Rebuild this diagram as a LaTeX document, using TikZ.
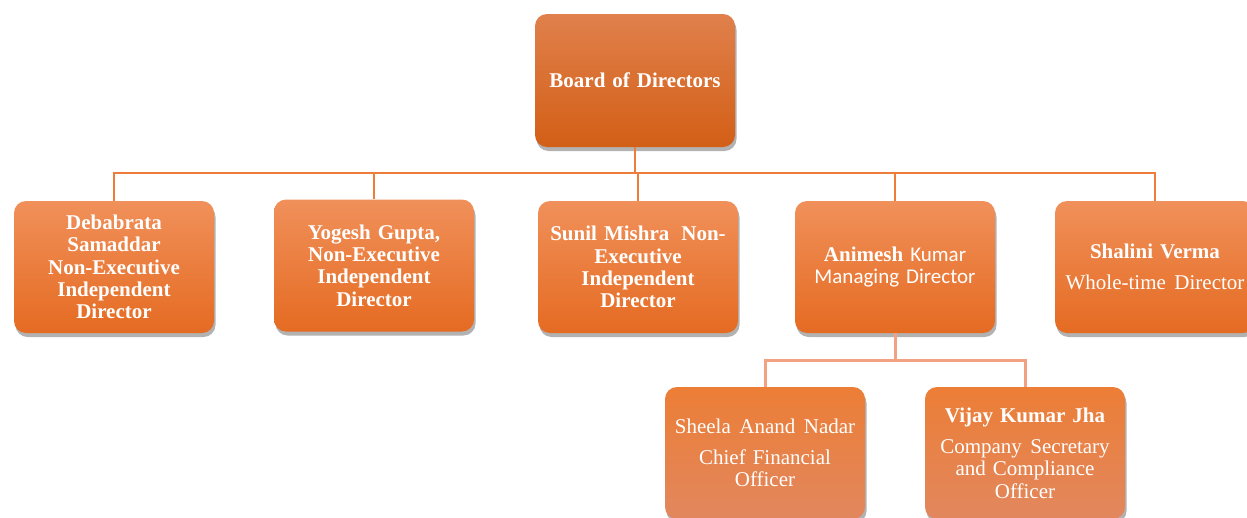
\documentclass[tikz,border=0pt]{standalone}
\usepackage{fontspec}
\setmainfont{Liberation Serif}
\newfontfamily\calfont{Carlito}
\usetikzlibrary{shadows,positioning}
\definecolor{boardtop}{HTML}{E0804C}
\definecolor{boardbot}{HTML}{D35F16}
\definecolor{midtop}{HTML}{F0905A}
\definecolor{midbot}{HTML}{E56B22}
\definecolor{lowtop}{HTML}{EC7E36}
\definecolor{lowbot}{HTML}{E2875E}
\definecolor{busone}{HTML}{EE7D3A}
\definecolor{bustwo}{HTML}{F2A282}
\newcommand{\ws}{\hspace{8.5pt}}
\newcommand{\wsb}{\hspace{7pt}}
\tikzset{
  orgbox/.style={rounded corners=12pt, minimum width=200pt, minimum height=132pt,
    text width=192pt, align=center, text=white, inner sep=0pt,
    font=\fontsize{21}{22.3}\selectfont,
    drop shadow={shadow xshift=1.5pt, shadow yshift=-4pt, fill=black, opacity=0.3}},
  boardbox/.style={orgbox, top color=boardtop, bottom color=boardbot, minimum height=133pt},
  midbox/.style={orgbox, top color=midtop, bottom color=midbot},
  lowbox/.style={orgbox, top color=lowtop, bottom color=lowbot},
  busline/.style={draw=busone, line width=2.8pt},
  subline/.style={draw=bustwo, line width=3pt}
}
\begin{document}
\begin{tikzpicture}[x=1pt,y=1pt]
\useasboundingbox[fill=white] (0,0) rectangle (1247,-517);
\node[boardbox] (board) at (635,-80.5) {\textbf{Board of Directors}};
\node[midbox] (d1) at (114,-267) {\textbf{Debabrata\\Samaddar\\Non-Executive\\Independent\\Director}};
\node[midbox] (d2) at (374,-265.5) {\textbf{Yogesh Gupta,\\Non-Executive\\Independent\\Director}};
\node[midbox] (d3) at (638,-267) {\textbf{Sunil Mishra\hspace{12pt}Non-\\Executive\\Independent\\Director}};
\node[midbox] (d4) at (895,-267) {\textbf{Animesh} {\calfont Kumar\\Managing Director}};
\node[midbox] (d5) at (1155,-267) {\textbf{Shalini\hspace{7pt}Verma}\\[8.5pt]Whole-time\ws Director};
\node[lowbox] (o1) at (765,-453) {Sheela\ws Anand\ws Nadar\\[8.5pt]Chief Financial\\Officer};
\node[lowbox] (o2) at (1025,-453) {\textbf{Vijay\wsb Kumar\wsb Jha}\\[9pt]Company\ws Secretary\\and Compliance\\Officer};
\coordinate (bus) at (635,-173);
\coordinate (bus2) at (895,-360);
\draw[busline] (board.south) -- (bus);
\foreach \n in {d1,d2,d3,d4,d5} {\draw[busline] (bus) -| (\n.north);}
\draw[subline] (d4.south) -- (bus2);
\foreach \n in {o1,o2} {\draw[subline] (bus2) -| (\n.north);}
\end{tikzpicture}
\end{document}
